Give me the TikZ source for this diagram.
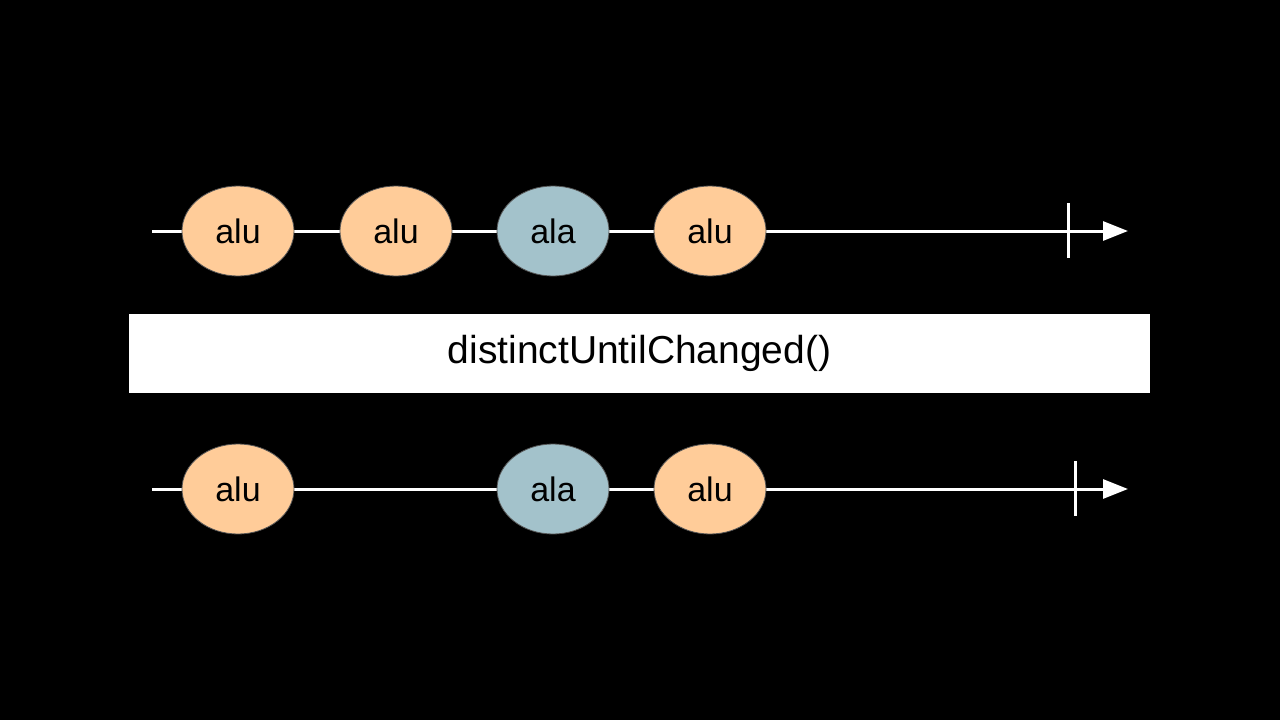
\documentclass[tikz,border=0pt]{standalone}
\usepackage{fontspec}
\setmainfont{Liberation Sans}
\usetikzlibrary{shapes.geometric,arrows.meta}
\definecolor{peach}{HTML}{FFCC99}
\definecolor{slate}{HTML}{A3C2CB}
\definecolor{rim}{HTML}{555555}
\tikzset{
  marble/.style={ellipse, draw=rim, line width=0.8pt, minimum width=112pt, minimum height=90pt, inner sep=0pt, font=\fontsize{34}{40}\selectfont, text=black},
  orange/.style={marble, fill=peach},
  blue/.style={marble, fill=slate},
  timeline/.style={white, line width=3pt, -{Triangle[length=25pt,width=19pt]}},
  endtick/.style={white, line width=3pt},
  opbox/.style={fill=white, minimum width=1021pt, minimum height=79pt, inner sep=0pt, font=\fontsize{39}{46}\selectfont, text=black}
}
\begin{document}
\begin{tikzpicture}[x=1pt,y=-1pt]
\fill[black] (0,0) rectangle (1280,720);
\useasboundingbox (0,0) rectangle (1280,720);
% top timeline
\coordinate (s1) at (152,231);
\coordinate (e1) at (1128,231);
\draw[timeline] (s1) -- (e1);
\coordinate (t1a) at (1068,203);
\coordinate (t1b) at (1068,258);
\draw[endtick] (t1a) -- (t1b);
\node[orange] (a1) at (238,231) {alu};
\node[orange] (a2) at (396,231) {alu};
\node[blue] (a3) at (553,231) {ala};
\node[orange] (a4) at (710,231) {alu};
% operator
\node[opbox] (op) at (639.5,353.5) {distinctUntilChanged()};
% bottom timeline
\coordinate (s2) at (152,489);
\coordinate (e2) at (1128,489);
\draw[timeline] (s2) -- (e2);
\coordinate (t2a) at (1075,461);
\coordinate (t2b) at (1075,516);
\draw[endtick] (t2a) -- (t2b);
\node[orange] (b1) at (238,489) {alu};
\node[blue] (b3) at (553,489) {ala};
\node[orange] (b4) at (710,489) {alu};
\end{tikzpicture}
\end{document}
